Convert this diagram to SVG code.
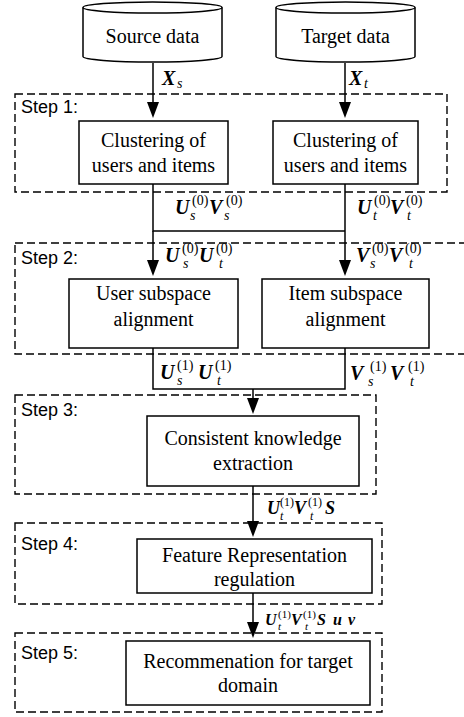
<svg xmlns="http://www.w3.org/2000/svg" width="464" height="717" viewBox="0 0 464 717">
<style>
  .box { fill: #fff; stroke: #000; stroke-width: 1.5; }
  .step { fill: none; stroke: #000; stroke-width: 1.4; stroke-dasharray: 8 4; }
  .line { fill: none; stroke: #000; stroke-width: 1.5; }
  .arr { marker-end: url(#ah); }
  .t { font-family: "Liberation Serif", "Times New Roman", serif; font-size: 20px; text-anchor: middle; fill: #000; }
  .s { font-family: "Liberation Sans", Arial, sans-serif; font-size: 18px; fill: #000; }
  .m { font-family: "Liberation Serif", "Times New Roman", serif; font-weight: bold; font-style: italic; font-size: 20px; fill: #000; }
  .sp { font-family: "Liberation Serif", "Times New Roman", serif; font-size: 14px; fill: #000; }
  .sb { font-family: "Liberation Serif", "Times New Roman", serif; font-style: italic; font-size: 14px; fill: #000; }
  .m9 { font-size: 18px; }
  .sp9 { font-size: 12px; }
  .m10 { font-size: 16px; }
  .sp10 { font-size: 11px; }
</style>
<defs>
  <marker id="ah" viewBox="0 0 16 12" refX="13" refY="6" markerWidth="16" markerHeight="12" markerUnits="userSpaceOnUse" orient="auto">
    <path d="M0,0 L16,6 L0,12 z" fill="#000"/>
  </marker>
</defs>

<!-- step frames -->
<g id="steps">
  <rect class="step" x="15" y="94" width="432" height="98"/>
  <rect class="step" x="15" y="243" width="470" height="111"/>
  <rect class="step" x="15" y="395" width="361" height="99"/>
  <rect class="step" x="15" y="523" width="367" height="81"/>
  <rect class="step" x="15" y="633" width="367" height="79"/>
  <text class="s" x="21" y="113">Step 1:</text>
  <text class="s" x="21" y="264">Step 2:</text>
  <text class="s" x="21" y="416">Step 3:</text>
  <text class="s" x="21" y="550">Step 4:</text>
  <text class="s" x="21" y="659">Step 5:</text>
</g>

<!-- connectors -->
<g id="connectors">
  <line class="line arr" x1="153" y1="63" x2="153" y2="115"/>
  <line class="line arr" x1="345" y1="63" x2="345" y2="115"/>
  <polyline class="line" points="153,184 153,231 345,231"/>
  <line class="line" x1="345" y1="184" x2="345" y2="231"/>
  <line class="line arr" x1="153" y1="231" x2="153" y2="273"/>
  <line class="line arr" x1="345" y1="231" x2="345" y2="273"/>
  <polyline class="line" points="153,348 153,389 345,389 345,348"/>
  <line class="line arr" x1="253" y1="389" x2="253" y2="411"/>
  <line class="line arr" x1="253" y1="486" x2="253" y2="534"/>
  <line class="line arr" x1="253" y1="593" x2="253" y2="635"/>

  <g id="lbl-xs">
    <text class="m" x="162" y="85">X</text><text class="sb" x="177" y="88">s</text>
  </g>
  <g id="lbl-xt">
    <text class="m" x="349" y="85">X</text><text class="sb" x="364" y="88">t</text>
  </g>
  <g id="lbl-usvs0">
    <text class="m" x="175" y="214">U</text><text class="sp" x="192" y="205">(0)</text><text class="sb" x="190" y="220">s</text>
    <text class="m" x="209" y="214">V</text><text class="sp" x="226" y="205">(0)</text><text class="sb" x="224" y="220">s</text>
  </g>
  <g id="lbl-utvt0">
    <text class="m" x="357" y="214">U</text><text class="sp" x="374" y="205">(0)</text><text class="sb" x="373" y="220">t</text>
    <text class="m" x="390" y="214">V</text><text class="sp" x="406" y="205">(0)</text><text class="sb" x="407" y="220">t</text>
  </g>
  <g id="lbl-usut0">
    <text class="m" x="165" y="262">U</text><text class="sp" x="182" y="253">(0)</text><text class="sb" x="183" y="268">s</text>
    <text class="m" x="199" y="262">U</text><text class="sp" x="216" y="253">(0)</text><text class="sb" x="219" y="268">t</text>
  </g>
  <g id="lbl-vsvt0">
    <text class="m" x="356" y="262">V</text><text class="sp" x="372" y="253">(0)</text><text class="sb" x="370" y="268">s</text>
    <text class="m" x="389" y="262">V</text><text class="sp" x="405" y="253">(0)</text><text class="sb" x="409" y="268">t</text>
  </g>
  <g id="lbl-usut1">
    <text class="m" x="160" y="379">U</text><text class="sp" x="177" y="370">(1)</text><text class="sb" x="177" y="385">s</text>
    <text class="m" x="198" y="379">U</text><text class="sp" x="215" y="370">(1)</text><text class="sb" x="217" y="385">t</text>
  </g>
  <g id="lbl-vsvt1">
    <text class="m" x="350" y="380">V</text><text class="sp" x="370" y="371">(1)</text><text class="sb" x="368" y="386">s</text>
    <text class="m" x="390" y="380">V</text><text class="sp" x="408" y="371">(1)</text><text class="sb" x="410" y="386">t</text>
  </g>
  <g id="lbl-utvts">
    <text class="m m9" x="267" y="514">U</text><text class="sp sp9" x="280" y="506">(1)</text><text class="sb sp9" x="280" y="520">t</text>
    <text class="m m9" x="294" y="514">V</text><text class="sp sp9" x="308" y="506">(1)</text><text class="sb sp9" x="310" y="520">t</text>
    <text class="m m9" x="325" y="514">S</text>
  </g>
  <g id="lbl-utvtsuv">
    <text class="m m10" x="265" y="625">U</text><text class="sp sp10" x="278" y="618">(1)</text><text class="sb sp10" x="278" y="630">t</text>
    <text class="m m10" x="291" y="625">V</text><text class="sp sp10" x="303" y="618">(1)</text><text class="sb sp10" x="305" y="630">t</text>
    <text class="m m10" x="317" y="625">S</text>
    <text class="m m10" x="333" y="625">u</text>
    <text class="m m10" x="348" y="625">v</text>
  </g>
</g>

<!-- nodes -->
<g id="source">
  <path class="box" d="M83,7.5 L83,56.5 A69.5,5.5 0 0 0 222,56.5 L222,7.5"/>
  <ellipse class="box" cx="152.5" cy="7.5" rx="69.5" ry="5.5"/>
  <text class="t" x="152.5" y="43">Source data</text>
</g>
<g id="target">
  <path class="box" d="M276,7.5 L276,56.5 A69.5,5.5 0 0 0 415,56.5 L415,7.5"/>
  <ellipse class="box" cx="345.5" cy="7.5" rx="69.5" ry="5.5"/>
  <text class="t" x="345.5" y="43">Target data</text>
</g>
<g id="cluster-s">
  <rect class="box" x="79" y="121" width="149" height="63"/>
  <text class="t" x="153.5" y="147">Clustering of</text>
  <text class="t" x="153.5" y="172">users and items</text>
</g>
<g id="cluster-t">
  <rect class="box" x="273" y="121" width="145" height="63"/>
  <text class="t" x="345.5" y="147">Clustering of</text>
  <text class="t" x="345.5" y="172">users and items</text>
</g>
<g id="user-align">
  <rect class="box" x="69" y="279" width="169" height="69"/>
  <text class="t" x="153.5" y="300">User subspace</text>
  <text class="t" x="153.5" y="326">alignment</text>
</g>
<g id="item-align">
  <rect class="box" x="262" y="279" width="167" height="69"/>
  <text class="t" x="345.5" y="300">Item subspace</text>
  <text class="t" x="345.5" y="326">alignment</text>
</g>
<g id="consistent">
  <rect class="box" x="147" y="416" width="212" height="70"/>
  <text class="t" x="253" y="445">Consistent knowledge</text>
  <text class="t" x="253" y="470">extraction</text>
</g>
<g id="feature">
  <rect class="box" x="137" y="539" width="235" height="54"/>
  <text class="t" x="254.5" y="562">Feature Representation</text>
  <text class="t" x="254.5" y="586">regulation</text>
</g>
<g id="recommend">
  <rect class="box" x="126" y="641" width="244" height="64"/>
  <text class="t" x="248" y="668">Recommenation for target</text>
  <text class="t" x="248" y="692">domain</text>
</g>
</svg>
